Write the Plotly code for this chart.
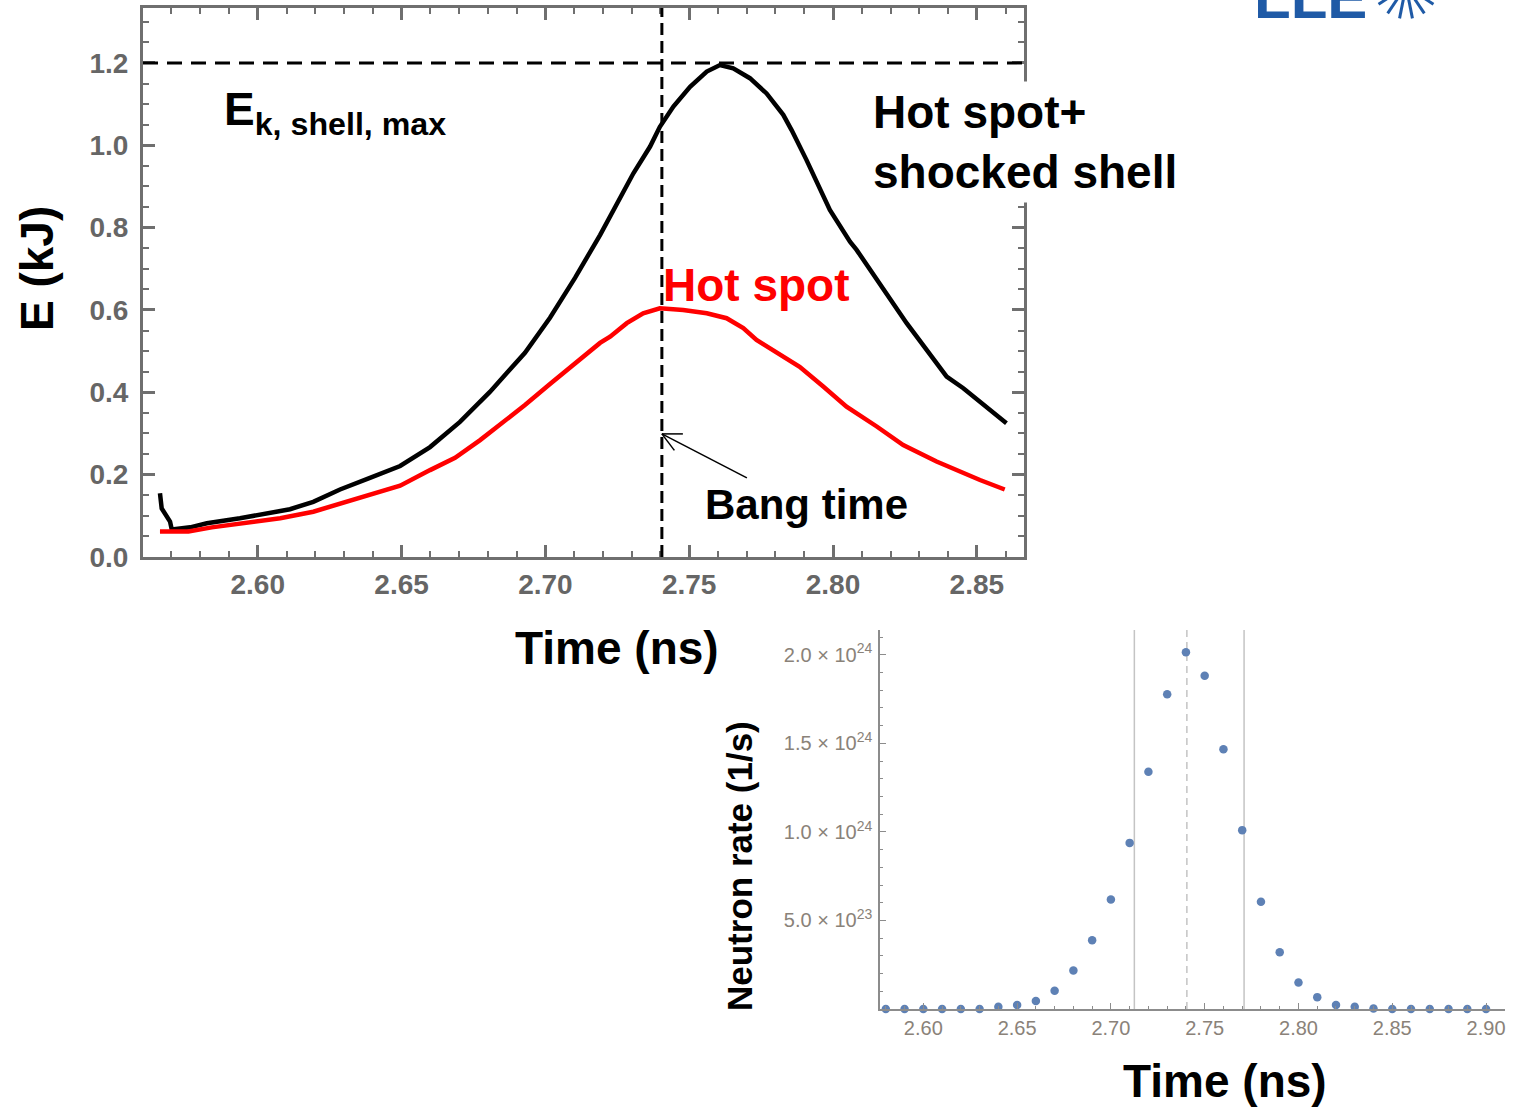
import math
import plotly.graph_objects as go

# ---- Kinetic energy of the hot spot and the hot spot + shocked shell ----
t_total = [2.5660, 2.5666, 2.5695, 2.5701, 2.5765, 2.5823, 2.5938, 2.6031, 2.6112,
           2.6193, 2.6286, 2.6390, 2.6495, 2.6599, 2.6703, 2.6807, 2.6929, 2.7016,
           2.7103, 2.7190, 2.7248, 2.7306, 2.7364, 2.7398, 2.7445, 2.7503, 2.7561,
           2.7607, 2.7653, 2.7711, 2.7769, 2.7827, 2.7856, 2.7908, 2.7989, 2.8059,
           2.8082, 2.8163, 2.8256, 2.8360, 2.8395, 2.8453, 2.8546, 2.8603]
e_total = [0.155, 0.118, 0.086, 0.067, 0.072, 0.082, 0.094, 0.107, 0.116,
           0.134, 0.164, 0.192, 0.221, 0.267, 0.328, 0.401, 0.496, 0.581,
           0.678, 0.782, 0.859, 0.932, 0.997, 1.045, 1.094, 1.142, 1.179,
           1.195, 1.187, 1.163, 1.126, 1.074, 1.037, 0.964, 0.843, 0.766,
           0.746, 0.665, 0.568, 0.471, 0.438, 0.410, 0.357, 0.325]

t_hot = [2.5660, 2.5759, 2.5840, 2.5938, 2.6008, 2.6078, 2.6193, 2.6286, 2.6390,
         2.6495, 2.6599, 2.6686, 2.6773, 2.6842, 2.6929, 2.7016, 2.7103, 2.7190,
         2.7225, 2.7283, 2.7340, 2.7398, 2.7479, 2.7561, 2.7630, 2.7688, 2.7734,
         2.7815, 2.7884, 2.7966, 2.8047, 2.8152, 2.8244, 2.8360, 2.8441, 2.8511,
         2.8597]
e_hot = [0.062, 0.062, 0.072, 0.080, 0.086, 0.094, 0.110, 0.129, 0.151,
         0.173, 0.211, 0.241, 0.284, 0.321, 0.369, 0.420, 0.469, 0.520,
         0.535, 0.568, 0.592, 0.604, 0.600, 0.592, 0.580, 0.556, 0.527,
         0.491, 0.462, 0.414, 0.365, 0.317, 0.272, 0.232, 0.207, 0.187,
         0.164]

ek_shell_max = 1.2
bang_time = 2.7405

# ---- Neutron production rate ----
t_neutron = [2.58, 2.59, 2.60, 2.61, 2.62, 2.63, 2.64, 2.65, 2.66, 2.67, 2.68,
             2.69, 2.70, 2.71, 2.72, 2.73, 2.74, 2.75, 2.76, 2.77, 2.78, 2.79,
             2.80, 2.81, 2.82, 2.83, 2.84, 2.85, 2.86, 2.87, 2.88, 2.89, 2.90]
rate_neutron = [0.0, 0.0, 0.0, 0.0, 0.0, 0.0, 0.013e24, 0.022e24, 0.045e24,
                0.103e24, 0.217e24, 0.388e24, 0.618e24, 0.938e24, 1.340e24,
                1.777e24, 2.015e24, 1.882e24, 1.467e24, 1.010e24, 0.606e24,
                0.320e24, 0.150e24, 0.067e24, 0.022e24, 0.013e24, 0.003e24,
                0.0, 0.0, 0.0, 0.0, 0.0, 0.0]
burn_edges = [2.7125, 2.7710]
rate_ticks = [5.0e23, 1.0e24, 1.5e24, 2.0e24]
rate_ticktext = ["5.0 \u00d7 10<sup>23</sup>", "1.0 \u00d7 10<sup>24</sup>",
                 "1.5 \u00d7 10<sup>24</sup>", "2.0 \u00d7 10<sup>24</sup>"]

W, H = 1513, 1107
FONT = "Liberation Sans, Arial, sans-serif"
GREY = "#6f6f6f"


def px(x):
    return x / W


def py(y):
    return 1 - y / H


fig = go.Figure()

fig.add_trace(go.Scatter(x=t_total, y=e_total, mode="lines",
                         line=dict(color="black", width=4.5),
                         xaxis="x", yaxis="y", showlegend=False))
fig.add_trace(go.Scatter(x=t_hot, y=e_hot, mode="lines",
                         line=dict(color="#ff0000", width=4.5),
                         xaxis="x", yaxis="y", showlegend=False))
fig.add_trace(go.Scatter(x=t_neutron, y=rate_neutron, mode="markers",
                         marker=dict(color="#5e81b5", size=8.5),
                         cliponaxis=False,
                         xaxis="x2", yaxis="y2", showlegend=False))

shapes = []
# E_k,shell,max level and bang time markers on the energy panel
shapes.append(dict(type="line", xref="x domain", yref="y", x0=0, x1=1,
                   y0=ek_shell_max, y1=ek_shell_max,
                   line=dict(color="black", width=3, dash="15px,9px")))
shapes.append(dict(type="line", xref="x", yref="y domain", x0=bang_time, x1=bang_time,
                   y0=0, y1=1, line=dict(color="black", width=3, dash="12px,6px")))
# arrow pointing at the bang-time line
arrow_y = 0.299
for (dx, dy) in [(85, -44), (21, 0), (12.5, -16.5)]:
    shapes.append(dict(type="line", xref="x", yref="y", xsizemode="pixel",
                       ysizemode="pixel", xanchor=bang_time, yanchor=arrow_y,
                       x0=0, y0=0, x1=dx, y1=dy,
                       line=dict(color="black", width=1.5)))
# burn-width and peak markers on the neutron panel
for tb in burn_edges:
    shapes.append(dict(type="line", xref="x2", yref="y2 domain", x0=tb, x1=tb,
                       y0=0, y1=1, layer="below",
                       line=dict(color="#c4c4c4", width=1.5)))
shapes.append(dict(type="line", xref="x2", yref="y2 domain", x0=bang_time, x1=bang_time,
                   y0=0, y1=1, layer="below",
                   line=dict(color="#c4c4c4", width=1.5, dash="7px,5px")))

# LLE logo starburst
cx, cy = 1406, -14
for k in range(16):
    a = 2 * math.pi * (k + 0.5) / 16
    r0, r1 = 12, 33
    shapes.append(dict(type="line", xref="paper", yref="paper",
                       x0=px(cx + r0 * math.cos(a)), y0=py(cy + r0 * math.sin(a)),
                       x1=px(cx + r1 * math.cos(a)), y1=py(cy + r1 * math.sin(a)),
                       line=dict(color="#1f5aa6", width=3)))

annotations = [
    dict(text="<b>E (kJ)</b>", x=px(37), y=py(269), textangle=-90,
         font=dict(size=46, color="black", family=FONT)),
    dict(text="<b>Time (ns)</b>", x=px(617), y=py(648),
         font=dict(size=46, color="black", family=FONT)),
    dict(text="<b>E<sub>k, shell, max</sub></b>", x=px(222), y=py(112), xanchor="left",
         font=dict(size=46, color="black", family=FONT)),
    dict(text="<b>Hot spot+<br>shocked shell</b>", x=px(868), y=py(142), xanchor="left",
         align="left", bgcolor="white", borderpad=4,
         font=dict(size=46, color="black", family=FONT)),
    dict(text="<b>Hot spot</b>", x=px(661), y=py(285), xanchor="left",
         font=dict(size=46, color="#ff0000", family=FONT)),
    dict(text="<b>Bang time</b>", x=px(703), y=py(504), xanchor="left",
         font=dict(size=42, color="black", family=FONT)),
    dict(text="<b>Neutron rate (1/s)</b>", x=px(739), y=py(866), textangle=-90,
         font=dict(size=35, color="black", family=FONT)),
    dict(text="<b>Time (ns)</b>", x=px(1225), y=py(1081),
         font=dict(size=46, color="black", family=FONT)),
    dict(text="<b>LLE</b>", x=px(1252), y=py(-3), xanchor="left",
         font=dict(size=60, color="#1f5aa6", family=FONT)),
]
for a in annotations:
    a.setdefault("xanchor", "center")
    a.setdefault("yanchor", "middle")
    a.update(xref="paper", yref="paper", showarrow=False)

energy_axis_common = dict(
    showline=True, linecolor=GREY, linewidth=3, mirror="ticks",
    ticks="inside", tickcolor=GREY, tickwidth=2.5, ticklen=12,
    showgrid=False, zeroline=False, automargin=False,
    tickfont=dict(size=28, color="#666666", family=FONT, weight="bold"),
)
rate_axis_common = dict(
    showline=True, linecolor="#8c8c8c", linewidth=1.5,
    ticks="inside", tickcolor="#8c8c8c", tickwidth=1.2, ticklen=6,
    showgrid=False, zeroline=False, automargin=False,
    tickfont=dict(size=20, color="#8a8279", family=FONT),
)

fig.update_layout(
    width=W, height=H,
    margin=dict(l=0, r=0, t=0, b=0, autoexpand=False),
    paper_bgcolor="white", plot_bgcolor="white",
    xaxis=dict(domain=[px(143), px(1024)], range=[2.5601, 2.8664], anchor="y",
               tick0=2.60, dtick=0.05, tickformat=".2f", ticklabelstandoff=0,
               minor=dict(dtick=0.01, tick0=2.56, ticks="inside", ticklen=6,
                          tickwidth=2, tickcolor=GREY),
               **energy_axis_common),
    yaxis=dict(domain=[py(557), py(8)], range=[0, 1.3335], anchor="x",
               tick0=0, dtick=0.2, tickformat=".1f", ticklabelstandoff=6,
               minor=dict(dtick=0.05, ticks="inside", ticklen=6,
                          tickwidth=2, tickcolor=GREY),
               **energy_axis_common),
    xaxis2=dict(domain=[px(880), px(1505)], range=[2.5769, 2.9101], anchor="y2",
                tick0=2.60, dtick=0.05, tickformat=".2f", ticklabelstandoff=0,
                minor=dict(dtick=0.01, tick0=2.58, ticks="inside", ticklen=3.5,
                           tickwidth=1, tickcolor="#8c8c8c"),
                **rate_axis_common),
    yaxis2=dict(domain=[py(1009), py(630)], range=[0, 2.14e24], anchor="x2",
                tickvals=rate_ticks, ticktext=rate_ticktext, ticklabelstandoff=2,
                minor=dict(dtick=1e23, ticks="inside", ticklen=3.5,
                           tickwidth=1, tickcolor="#8c8c8c"),
                **rate_axis_common),
    shapes=shapes,
    annotations=annotations,
)

fig.write_html("out.html")
